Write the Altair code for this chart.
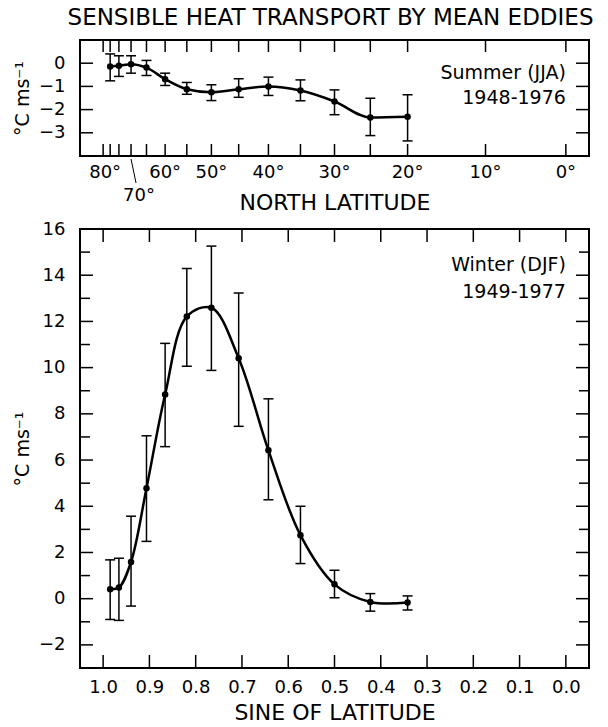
import altair as alt
import numpy as np
import pandas as pd

FONT = "DejaVu Sans"

# Latitudes of the analysis points (degrees north)
lat = [80, 75, 70, 65, 60, 55, 50, 45, 40, 35, 30, 25, 20]

# Summer (JJA) 1948-1976: mean and error-bar limits, deg C m/s
summer_mean = [-0.14, -0.11, -0.04, -0.19, -0.69, -1.12, -1.25, -1.12, -1.00, -1.18, -1.65, -2.34, -2.31]
summer_hi = [0.40, 0.32, 0.32, 0.12, -0.43, -0.83, -0.93, -0.67, -0.60, -0.72, -1.15, -1.51, -1.36]
summer_lo = [-0.76, -0.57, -0.43, -0.53, -0.96, -1.34, -1.61, -1.47, -1.39, -1.62, -2.22, -3.12, -3.35]

# Winter (DJF) 1949-1977
winter_mean = [0.41, 0.48, 1.59, 4.78, 8.84, 12.21, 12.59, 10.41, 6.42, 2.75, 0.62, -0.14, -0.17]
winter_hi = [1.68, 1.75, 3.57, 7.05, 11.05, 14.29, 15.26, 13.23, 8.65, 4.00, 1.23, 0.22, 0.12]
winter_lo = [-0.90, -0.94, -0.32, 2.48, 6.58, 10.06, 9.88, 7.46, 4.28, 1.52, 0.04, -0.54, -0.49]

# Tick positions and labels
top_tick_lat = [90, 80, 75, 70, 65, 60, 55, 50, 45, 40, 35, 30, 25, 20, 10, 0]
top_label_lat = [80, 60, 50, 40, 30, 20, 10, 0]
top_y_ticks = [0, -1, -2, -3]
bot_x_ticks = [1.0, 0.9, 0.8, 0.7, 0.6, 0.5, 0.4, 0.3, 0.2, 0.1, 0.0]
bot_y_major = [-2, 0, 2, 4, 6, 8, 10, 12, 14]
bot_y_minor = [-1, 1, 3, 5, 7, 9, 11, 13, 15]
bot_y_labels = [-2, 0, 2, 4, 6, 8, 10, 12, 14, 16]

W = 509
H_TOP = 116
H_BOT = 439
UNIT = "°C ms⁻¹"


def sine(values):
    return np.sin(np.radians(np.asarray(values, dtype=float)))


X_SCALE = alt.Scale(domain=[-0.05, 1.05], reverse=True, nice=False, zero=False)


def make_panel(mean, hi, lo, y_domain, y_label_vals, y_major, y_minor,
               height, x_axis, notes, curve_kind):
    x_enc = alt.X("s:Q", scale=X_SCALE, axis=x_axis)
    y_axis = alt.Axis(values=y_label_vals, ticks=False, domain=False, grid=False,
                      labelPadding=15, labelFontSize=18, title=UNIT,
                      titleFontSize=19, titlePadding=6, titleFontWeight="normal")
    y_scale = alt.Scale(domain=y_domain, nice=False, zero=False)

    def Y(field):
        return alt.Y(f"{field}:Q", scale=y_scale, axis=y_axis)

    df = pd.DataFrame({"s": sine(lat), "v": mean, "hi": hi, "lo": lo})

    bars = alt.Chart(df).mark_rule(color="black", strokeWidth=1.5).encode(
        x=x_enc, y=Y("lo"), y2="hi")
    cap_hi = alt.Chart(df).mark_tick(color="black", orient="horizontal", size=10,
                                     thickness=1.5, opacity=1).encode(x=x_enc, y=Y("hi"))
    cap_lo = alt.Chart(df).mark_tick(color="black", orient="horizontal", size=10,
                                     thickness=1.5, opacity=1).encode(x=x_enc, y=Y("lo"))
    curve = alt.Chart(df).mark_line(color="black", strokeWidth=2.5,
                                    interpolate=curve_kind).encode(x=x_enc, y=Y("v"))
    dots = alt.Chart(df).mark_circle(color="black", size=42, opacity=1).encode(
        x=x_enc, y=Y("v"))

    # inward frame ticks on the left and right edges
    major = pd.DataFrame({"v": y_major})
    yt = [
        alt.Chart(major).mark_rule(color="black", strokeWidth=1.5).encode(
            y=Y("v"), x=alt.value(0), x2=alt.value(13)),
        alt.Chart(major).mark_rule(color="black", strokeWidth=1.5).encode(
            y=Y("v"), x=alt.value(W - 13), x2=alt.value(W)),
    ]
    if y_minor:
        minor = pd.DataFrame({"v": y_minor})
        yt += [
            alt.Chart(minor).mark_rule(color="black", strokeWidth=1.5).encode(
                y=Y("v"), x=alt.value(0), x2=alt.value(10)),
            alt.Chart(minor).mark_rule(color="black", strokeWidth=1.5).encode(
                y=Y("v"), x=alt.value(W - 10), x2=alt.value(W)),
        ]

    notes_df = pd.DataFrame({"s": [0.0] * len(notes), "v": [n[1] for n in notes],
                             "t": [n[0] for n in notes]})
    text = alt.Chart(notes_df).mark_text(align="right", baseline="alphabetic",
                                         font=FONT, fontSize=19, color="black").encode(
        x=x_enc, y=Y("v"), text="t:N")

    return [bars, cap_hi, cap_lo, curve, dots, text] + yt, x_enc, y_scale


# ---------- top panel: summer, labelled in degrees of latitude ----------
top_x_axis = alt.Axis(labels=False, ticks=False, domain=False, grid=False,
                      title="NORTH LATITUDE", titleFontSize=22, titlePadding=36,
                      titleFontWeight="normal")
top_layers, top_x, _ = make_panel(
    summer_mean, summer_hi, summer_lo, [-4, 1], top_y_ticks, top_y_ticks, [],
    H_TOP, top_x_axis, [("Summer (JJA)", -0.70), ("1948-1976", -1.78)],
    "monotone")

lat_ticks = pd.DataFrame({"s": sine(top_tick_lat)})
top_layers += [
    alt.Chart(lat_ticks).mark_rule(color="black", strokeWidth=1.5).encode(
        x=top_x, y=alt.value(0), y2=alt.value(12)),
    alt.Chart(lat_ticks).mark_rule(color="black", strokeWidth=1.5).encode(
        x=top_x, y=alt.value(H_TOP - 12), y2=alt.value(H_TOP)),
]

lab = pd.DataFrame({"s": sine(top_label_lat),
                    "t": [f"{d}°" for d in top_label_lat],
                    "shift": [-5 if d == 80 else 0 for d in top_label_lat]})
for shift in sorted(set(lab["shift"])):
    sub = lab[lab["shift"] == shift]
    top_layers.append(
        alt.Chart(sub).mark_text(font=FONT, fontSize=18, baseline="middle",
                                 dx=shift, color="black").encode(
            x=top_x, y=alt.value(H_TOP + 17), text="t:N"))

lab70 = pd.DataFrame({"s": sine([70]), "t": ["70°"]})
top_layers += [
    alt.Chart(lab70).mark_text(font=FONT, fontSize=18, baseline="middle", dx=8,
                               color="black").encode(
        x=top_x, y=alt.value(H_TOP + 40), text="t:N"),
    alt.Chart(lab70).mark_rule(color="black", strokeWidth=1, x2Offset=5).encode(
        x=top_x, x2="s:Q", y=alt.value(H_TOP + 3), y2=alt.value(H_TOP + 27)),
]

top = alt.layer(*top_layers).properties(width=W, height=H_TOP)

# ---------- bottom panel: winter, labelled in sine of latitude ----------
bot_x_axis = alt.Axis(values=bot_x_ticks, format=".1f", ticks=False, domain=False,
                      grid=False, labelPadding=10, labelFontSize=18,
                      title="SINE OF LATITUDE", titleFontSize=22, titlePadding=6,
                      titleFontWeight="normal")
bot_layers, bot_x, _ = make_panel(
    winter_mean, winter_hi, winter_lo, [-3, 16], bot_y_labels, bot_y_major,
    bot_y_minor, H_BOT, bot_x_axis, [("Winter (DJF)", 14.19), ("1949-1977", 13.02)],
    "catmull-rom")

sx = pd.DataFrame({"s": bot_x_ticks})
bot_layers += [
    alt.Chart(sx).mark_rule(color="black", strokeWidth=1.5).encode(
        x=bot_x, y=alt.value(0), y2=alt.value(13)),
    alt.Chart(sx).mark_rule(color="black", strokeWidth=1.5).encode(
        x=bot_x, y=alt.value(H_BOT - 13), y2=alt.value(H_BOT)),
]

bottom = alt.layer(*bot_layers).properties(width=W, height=H_BOT)

chart = alt.vconcat(top, bottom, spacing=73, bounds="flush").properties(
    title=alt.Title("SENSIBLE HEAT TRANSPORT BY MEAN EDDIES", font=FONT,
                    fontSize=23, fontWeight="normal", anchor="middle",
                    frame="group", offset=8, dx=-4, color="black"),
    padding={"left": 12, "top": 7, "right": 5, "bottom": 2},
    background="white",
).configure_view(
    stroke="black", strokeWidth=2
).configure_axis(
    labelFont=FONT, titleFont=FONT, labelColor="black", titleColor="black"
)

chart.save("out.html", embed_options={"renderer": "svg", "actions": False})
